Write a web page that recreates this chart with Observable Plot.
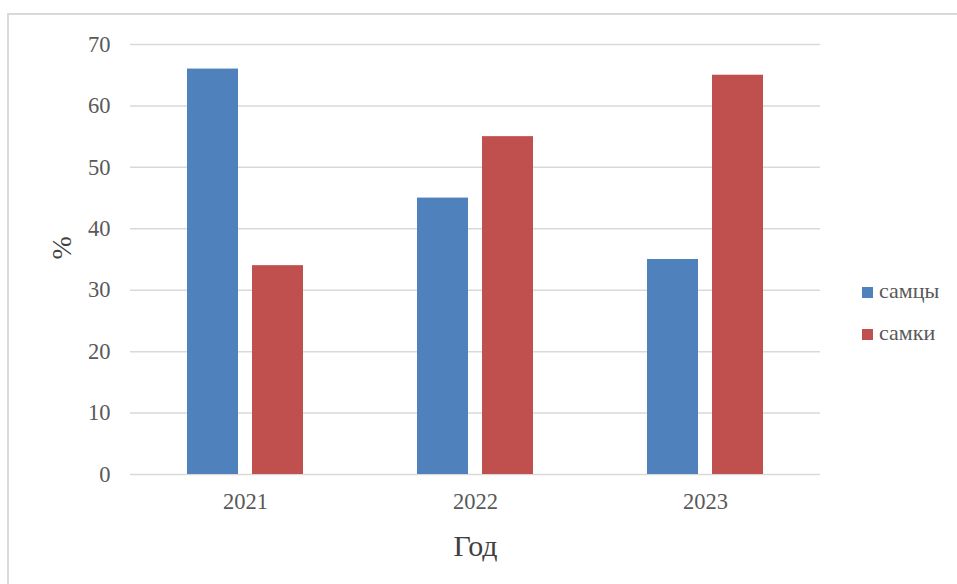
<!DOCTYPE html>
<html>
<head>
<meta charset="utf-8">
<script src="https://cdn.jsdelivr.net/npm/d3@7"></script>
<script src="https://cdn.jsdelivr.net/npm/@observablehq/plot@0.6"></script>
<style>
  html, body { margin: 0; padding: 0; background: #fff; }
  #wrap { position: relative; width: 957px; height: 584px; overflow: hidden; font-family: "Liberation Serif", "Times New Roman", serif; }
  #frame { position: absolute; left: 7px; top: 13px; width: 1100px; height: 800px; border: 2px solid #d9d9d9; box-sizing: border-box; }
  #chart { position: absolute; left: 0; top: 0; }
  #legend { position: absolute; left: 862px; top: 270px; color: #595959; font-size: 22px; }
  .item { display: flex; align-items: center; height: 42px; }
  .sw { width: 11px; height: 11px; margin-right: 6px; margin-top: 2px; }
</style>
</head>
<body>
<div id="wrap">
  <div id="frame"></div>
  <div id="chart"></div>
  <div id="legend"></div>
</div>
<script>
const years = ["2021", "2022", "2023"];
const series = ["самцы", "самки"];
const males = [66, 45, 35];
const females = [34, 55, 65];
const yTicks = [0, 10, 20, 30, 40, 50, 60, 70];
const colors = ["#4f81bd", "#c0504d"];
const xTitle = "Год";
const yTitle = "%";

const rows = [];
years.forEach((yr, i) => {
  rows.push({year: yr, sex: series[0], value: males[i]});
  rows.push({year: yr, sex: series[1], value: females[i]});
});

const chart = Plot.plot({
  width: 957,
  height: 584,
  marginLeft: 130,
  marginRight: 137,
  marginTop: 44,
  marginBottom: 110,
  style: {fontFamily: "'Liberation Serif', 'Times New Roman', serif", background: "transparent", color: "#595959"},
  fx: {domain: years, padding: 0},
  x: {domain: series, paddingInner: 0.2121, paddingOuter: 0.8485, axis: null},
  y: {domain: [0, 70], axis: null},
  color: {domain: series, range: colors},
  marks: [
    Plot.gridY(yTicks, {stroke: "#d9d9d9", strokeOpacity: 1, strokeWidth: 1.5}),
    Plot.barY(rows, {fx: "year", x: "sex", y: "value", fill: "sex"}),
    Plot.axisY(yTicks, {tickSize: 0, tickPadding: 20, fontSize: 22.5, label: null, fill: "#595959"}),
    Plot.axisFx({anchor: "bottom", tickSize: 0, tickPadding: 19, fontSize: 22.5, label: null, fill: "#595959"}),
    Plot.text([xTitle], {fx: () => years[1], frameAnchor: "bottom", lineAnchor: "bottom", dy: 81, fontSize: 30, fill: "#404040"}),
    Plot.text([yTitle], {fx: () => years[0], frameAnchor: "left", rotate: -90, dx: -68, fontSize: 28, fill: "#404040"})
  ]
});
document.getElementById("chart").appendChild(chart);

const cs = chart.scale("color");
const legend = document.getElementById("legend");
cs.domain.forEach((d, i) => {
  const item = document.createElement("div");
  item.className = "item";
  const sw = document.createElement("div");
  sw.className = "sw";
  sw.style.background = cs.range[i];
  const t = document.createElement("span");
  t.textContent = d;
  item.appendChild(sw);
  item.appendChild(t);
  legend.appendChild(item);
});
</script>
</body>
</html>
